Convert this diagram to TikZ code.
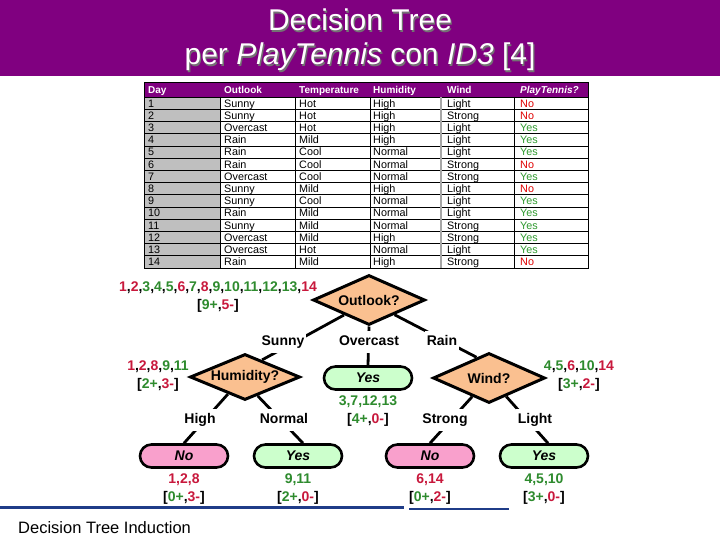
\documentclass[tikz,border=0pt]{standalone}
\usepackage{fontspec}
\setmainfont{Liberation Sans}
\usetikzlibrary{shapes.geometric}
\definecolor{ttl}{HTML}{800080}
\definecolor{cr}{HTML}{C8183C}
\definecolor{cg}{HTML}{2E8B2E}
\definecolor{tno}{HTML}{E00000}
\definecolor{tyes}{HTML}{2F9A2F}
\definecolor{peach}{HTML}{FAC090}
\definecolor{pinkleaf}{HTML}{F9A0CC}
\definecolor{greenleaf}{HTML}{CCFFCC}
\definecolor{navyline}{HTML}{1F3C88}
\newcommand\myR[1]{\textcolor{cr}{#1}}
\newcommand\myG[1]{\textcolor{cg}{#1}}
\begin{document}
\begin{tikzpicture}[x=1pt,y=-1pt,
  titlef/.style={font=\fontsize{30}{34}\selectfont, text=white, inner sep=0pt},
  cell/.style={anchor=base west, inner sep=0pt, font=\fontsize{10.8}{12}\selectfont},
  hcell/.style={anchor=base west, inner sep=0pt, text=white, font=\bfseries\fontsize{10}{12}\selectfont},
  gridl/.style={line width=0.6pt, black},
  test/.style={diamond, draw=black, line width=3pt, fill=peach, aspect=2.24, minimum width=112pt, minimum height=50pt, inner sep=0pt, font=\bfseries\fontsize{14}{16}\selectfont},
  leafno/.style={rectangle, rounded corners=11.5pt, draw=black, line width=2.6pt, fill=pinkleaf, minimum width=88pt, minimum height=23pt, inner sep=0pt, font=\bfseries\itshape\fontsize{14}{16}\selectfont},
  leafyes/.style={leafno, fill=greenleaf},
  cnt/.style={align=center, inner sep=0pt, font=\bfseries\fontsize{14}{17.5}\selectfont},
  lab/.style={fill=white, inner xsep=2pt, inner ysep=4.5pt, text height=10pt, text depth=3pt, font=\bfseries\fontsize{14}{16}\selectfont},
  edge/.style={draw=black, line width=2.8pt}
]
\useasboundingbox (0,0) rectangle (720,540);
\fill[white] (0,0) rectangle (720,540);
% title bar
\fill[ttl] (0,0) rectangle (720,76);
\node[titlef, anchor=base, text=black!55] (t1s) at (361.3,32.3) {Decision Tree};
\node[titlef, anchor=base, text=black!55] (t2s) at (361.3,66.3) {per \textit{PlayTennis} con \textit{ID3} [4]};
\node[titlef, anchor=base] (t1) at (360,31) {Decision Tree};
\node[titlef, anchor=base] (t2) at (360,65) {per \textit{PlayTennis} con \textit{ID3} [4]};
% table
\fill[black!25] (144,97) rectangle (220,268);
\fill[ttl] (144,83) rectangle (588,97);
\foreach \k in {1,...,13} \draw[gridl] (144,{97+12.214*\k}) -- (588,{97+12.214*\k});
\draw[gridl] (144,97) -- (588,97);
\draw[line width=0.9pt] (220,97) -- (220,268);
\draw[line width=0.9pt] (295,97) -- (295,268);
\draw[line width=0.9pt] (370,97) -- (370,268);
\draw[line width=1.6pt, black!35] (441,97) -- (441,268);
\draw[line width=0.9pt] (514,97) -- (514,268);
\draw[line width=1pt] (144,83) rectangle (588,268);
\node[hcell] (h1) at (148,94) {Day};
\node[hcell] (h2) at (224,94) {Outlook};
\node[hcell] (h3) at (299,94) {Temperature};
\node[hcell] (h4) at (373,94) {Humidity};
\node[hcell] (h5) at (447,94) {Wind};
\node[hcell, font=\bfseries\itshape\fontsize{10}{12}\selectfont] (h6) at (520,94) {PlayTennis?};
\foreach \d/\o/\t/\h/\w/\p/\c [count=\i] in {
1/Sunny/Hot/High/Light/No/tno,
2/Sunny/Hot/High/Strong/No/tno,
3/Overcast/Hot/High/Light/Yes/tyes,
4/Rain/Mild/High/Light/Yes/tyes,
5/Rain/Cool/Normal/Light/Yes/tyes,
6/Rain/Cool/Normal/Strong/No/tno,
7/Overcast/Cool/Normal/Strong/Yes/tyes,
8/Sunny/Mild/High/Light/No/tno,
9/Sunny/Cool/Normal/Light/Yes/tyes,
10/Rain/Mild/Normal/Light/Yes/tyes,
11/Sunny/Mild/Normal/Strong/Yes/tyes,
12/Overcast/Mild/High/Strong/Yes/tyes,
13/Overcast/Hot/Normal/Light/Yes/tyes,
14/Rain/Mild/High/Strong/No/tno}
{
  \pgfmathsetmacro\yy{97+12.214*(\i-0.5)+3.9}
  \node[cell] (d\i) at (148,\yy) {\d};
  \node[cell] (o\i) at (224,\yy) {\o};
  \node[cell] (te\i) at (299,\yy) {\t};
  \node[cell] (hu\i) at (373,\yy) {\h};
  \node[cell] (w\i) at (447,\yy) {\w};
  \node[cell, text=\c] (p\i) at (520,\yy) {\p};
}
% tree nodes
\node[test] (out) at (369,300) {Outlook?};
\node[test, aspect=2.39, minimum width=110pt, minimum height=46pt] (hum) at (245,377) {Humidity?};
\node[test] (wind) at (489,378) {Wind?};
\node[leafyes] (yes1) at (368,378) {Yes};
\node[leafno] (no1) at (184,456) {No};
\node[leafyes] (yes2) at (298,456) {Yes};
\node[leafno] (no2) at (430,456) {No};
\node[leafyes] (yes3) at (544,456) {Yes};
% edges
\draw[edge] (out.211) -- (hum.45);
\draw[edge] (out.south) -- (yes1.north);
\draw[edge] (out.-30) -- (wind.121);
\draw[edge] (hum.225) -- (no1.north);
\draw[edge] (hum.-56) -- ([xshift=5pt]yes2.north);
\draw[edge] (wind.228) -- (no2.north);
\draw[edge] (wind.-47) -- ([xshift=4pt]yes3.north);
% branch labels
\node[lab] (sunny) at (283,342) {Sunny};
\node[lab] (overcast) at (369,342) {Overcast};
\node[lab] (rain) at (442,342) {Rain};
\node[lab] (high) at (200,420) {High};
\node[lab] (normal) at (284,420) {Normal};
\node[lab] (strong) at (445,420) {Strong};
\node[lab] (light) at (535,420) {Light};
% example counts
\node[cnt] (c0) at (218,297) {\myR{1},\myR{2},\myG{3},\myG{4},\myG{5},\myR{6},\myG{7},\myR{8},\myG{9},\myG{10},\myG{11},\myG{12},\myG{13},\myR{14}\\{[}\myG{9+},\myR{5-}]};
\node[cnt] (c1) at (158,376) {\myR{1},\myR{2},\myR{8},\myG{9},\myG{11}\\{[}\myG{2+},\myR{3-}]};
\node[cnt] (c2) at (579,376) {\myG{4},\myG{5},\myR{6},\myG{10},\myR{14}\\{[}\myG{3+},\myR{2-}]};
\node[cnt] (c3) at (368,411) {\myG{3,7,12,13}\\{[}\myG{4+},\myR{0-}]};
\node[cnt] (l1) at (184,489) {\myR{1,2,8}\\{[}\myG{0+},\myR{3-}]};
\node[cnt] (l2) at (298,489) {\myG{9,11}\\{[}\myG{2+},\myR{0-}]};
\node[cnt] (l3) at (430,489) {\myR{6,14}\\{[}\myG{0+},\myR{2-}]};
\node[cnt] (l4) at (544,489) {\myG{4,5,10}\\{[}\myG{3+},\myR{0-}]};
% footer
\draw[navyline, line width=2.6pt] (0,507.5) -- (404,507.5);
\draw[navyline, line width=2.6pt] (409,509) -- (509,509);
\node[anchor=base west, inner sep=0pt, font=\fontsize{16.5}{18}\selectfont] (cap) at (18,533) {Decision Tree Induction};
\end{tikzpicture}
\end{document}
